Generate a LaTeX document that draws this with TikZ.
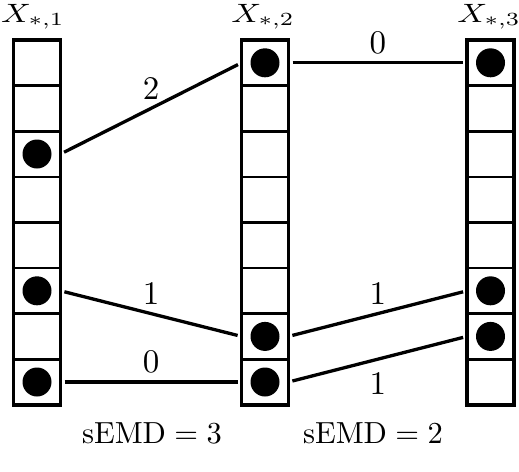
\documentclass[tikz,border=0pt]{standalone}
\usepackage{graphicx}
\newcommand{\numscl}[1]{\scalebox{3.3}{#1}}
\newcommand{\hdscl}[1]{\scalebox{3.3}[2.65]{#1}}
\newcommand{\ftscl}[1]{\scalebox{3.05}{#1}}
\begin{document}
\begin{tikzpicture}[x=1pt,y=-1pt,
  cell/.style={draw, line width=2.6pt, minimum width=47pt, minimum height=45.6pt, inner sep=0pt, outer sep=0pt},
  ball/.style={circle, fill=black, minimum size=29pt, inner sep=0pt},
  link/.style={line width=3.3pt, shorten <=4pt, shorten >=4pt},
  lbl/.style={inner sep=0pt},
]
\useasboundingbox (0,0) rectangle (519,471);
\foreach \c/\x in {1/37,2/265,3/490.5}{
  \foreach \i in {0,...,7}{
    \node[cell] (c\c-\i) at (\x, {40+45.6*(\i+0.5)}) {};
  }
  \draw[line width=3.6pt] (c\c-0.north west) rectangle (c\c-7.south east);
}
\foreach \n in {1-2,1-5,1-7,2-0,2-6,2-7,3-0,3-5,3-6}{
  \node[ball] (b\n) at (c\n) {};
}
\draw[link] (c1-2.east) -- node[lbl, yshift=20pt] (l1) {\numscl{2}} (c2-0.west);
\draw[link] (c1-5.east) -- node[lbl, yshift=20pt] (l2) {\numscl{1}} (c2-6.west);
\draw[link] (c1-7.east) -- node[lbl, yshift=20pt] (l3) {\numscl{0}} (c2-7.west);
\draw[link] (c2-0.east) -- node[lbl, yshift=20pt] (l4) {\numscl{0}} (c3-0.west);
\draw[link] (c2-6.east) -- node[lbl, yshift=20pt] (l5) {\numscl{1}} (c3-5.west);
\draw[link] (c2-7.east) -- node[lbl, yshift=-24pt] (l6) {\numscl{1}} (c3-6.west);
\node[lbl, anchor=base] (t1) at (33,22) {\hdscl{$X_{*,1}$}};
\node[lbl, anchor=base] (t2) at (263,22) {\hdscl{$X_{*,2}$}};
\node[lbl, anchor=base] (t3) at (489,22) {\hdscl{$X_{*,3}$}};
\node[lbl, anchor=base] (s1) at (152,443) {\ftscl{$\mathrm{sEMD}=3$}};
\node[lbl, anchor=base] (s2) at (373,443) {\ftscl{$\mathrm{sEMD}=2$}};
\end{tikzpicture}
\end{document}
